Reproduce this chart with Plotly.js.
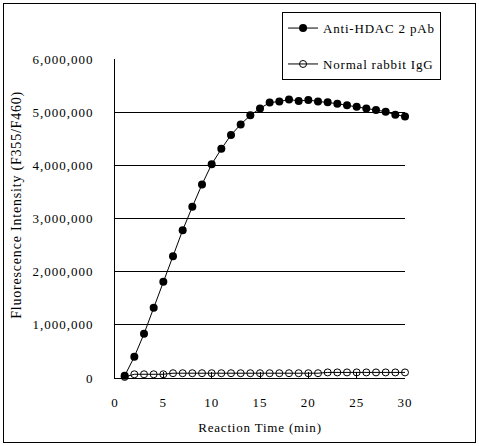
<!DOCTYPE html>
<html>
<head>
<meta charset="utf-8">
<script src="https://cdn.plot.ly/plotly-3.0.1.min.js"></script>
<style>
html,body{margin:0;padding:0;background:#fff;}
#wrap{position:relative;width:479px;height:446px;}
#chart{position:absolute;left:0;top:0;width:479px;height:446px;}
#frame{position:absolute;left:3px;top:3px;width:471px;height:438px;border:1px solid #000;pointer-events:none;}
.xtick text,.ytick text{letter-spacing:1px;}
.legendtext,.annotation-text,.xtitle{letter-spacing:0.8px;}
</style>
</head>
<body>
<div id="wrap"><div id="chart"></div><div id="frame"></div></div>
<script>
var time = [1,2,3,4,5,6,7,8,9,10,11,12,13,14,15,16,17,18,19,20,21,22,23,24,25,26,27,28,29,30];
var antiHDAC2 = [40000,400000,830000,1320000,1810000,2290000,2780000,3220000,3640000,4020000,4310000,4570000,4770000,4940000,5070000,5180000,5200000,5240000,5210000,5230000,5200000,5185000,5160000,5130000,5100000,5070000,5040000,5010000,4950000,4920000];
var normalIgG = [20000,70000,70000,70000,70000,90000,90000,90000,90000,90000,90000,90000,90000,90000,90000,90000,90000,90000,90000,90000,90000,105000,105000,105000,105000,105000,105000,105000,105000,105000];
var yTickVals = [0,1000000,2000000,3000000,4000000,5000000,6000000];
var yTickText = ['0','1,000,000','2,000,000','3,000,000','4,000,000','5,000,000','6,000,000'];
var gridVals = [1000000,2000000,3000000,4000000,5000000];
var xTickVals = [0,5,10,15,20,25,30];
var xTitle = 'Reaction Time (min)';
var yTitle = 'Fluorescence Intensity (F355/F460)';

var serif = '"Liberation Serif", "Times New Roman", Times, serif';

var traces = [
  {x: time, y: antiHDAC2, type:'scatter', mode:'lines+markers', name:'Anti-HDAC 2 pAb',
   legendgroup:'a', cliponaxis:false,
   line:{color:'#000', width:1}, marker:{symbol:'circle', size:8, color:'#000'}},
  {x: time, y: normalIgG, type:'scatter', mode:'lines+markers', name:'Normal rabbit IgG',
   legendgroup:'b', cliponaxis:false,
   line:{color:'#000', width:1}, marker:{symbol:'circle-open', size:7, color:'#000', line:{width:1}}},
  {x: [0,30], y: [0,0], yaxis:'y2', type:'scatter', mode:'none', showlegend:false, hoverinfo:'skip'}
];

var layout = {
  width:479, height:446,
  margin:{l:115, r:74, t:52, b:68},
  paper_bgcolor:'#fff', plot_bgcolor:'#fff',
  font:{family:serif, size:13, color:'#000'},
  showlegend:true,
  legend:{x:0.576, y:1.147, xanchor:'left', yanchor:'top',
    bordercolor:'#000', borderwidth:1, bgcolor:'#fff',
    traceorder:'grouped', tracegroupgap:16, itemwidth:30,
    font:{family:serif, size:13, color:'#000'}},
  xaxis:{range:[0,30], tickvals:xTickVals, ticks:'inside', ticklen:6, tickcolor:'#000',
    showline:true, linecolor:'#000', linewidth:1, showgrid:false, zeroline:false,
    ticklabelstandoff:12,
    tickfont:{family:serif, size:13},
    title:{text:xTitle, font:{family:serif, size:13}, standoff:14}},
  yaxis:{range:[0,6000000], tickvals:yTickVals, ticktext:yTickText, ticks:'',
    showline:true, linecolor:'#000', linewidth:1, showgrid:false, zeroline:false,
    ticklabelstandoff:18,
    tickfont:{family:serif, size:13}},
  yaxis2:{range:[0,6000000], overlaying:'y', tickvals:gridVals, showticklabels:false, ticks:'',
    showgrid:true, gridcolor:'#000', gridwidth:1, zeroline:false, showline:false},
  annotations:[{text:yTitle, textangle:-90, xref:'paper', yref:'paper', x:-0.338, y:0.543,
    xanchor:'center', yanchor:'middle', showarrow:false, font:{family:serif, size:14, color:'#000'}}]
};

Plotly.newPlot('chart', traces, layout, {displayModeBar:false, staticPlot:true});
</script>
</body>
</html>
